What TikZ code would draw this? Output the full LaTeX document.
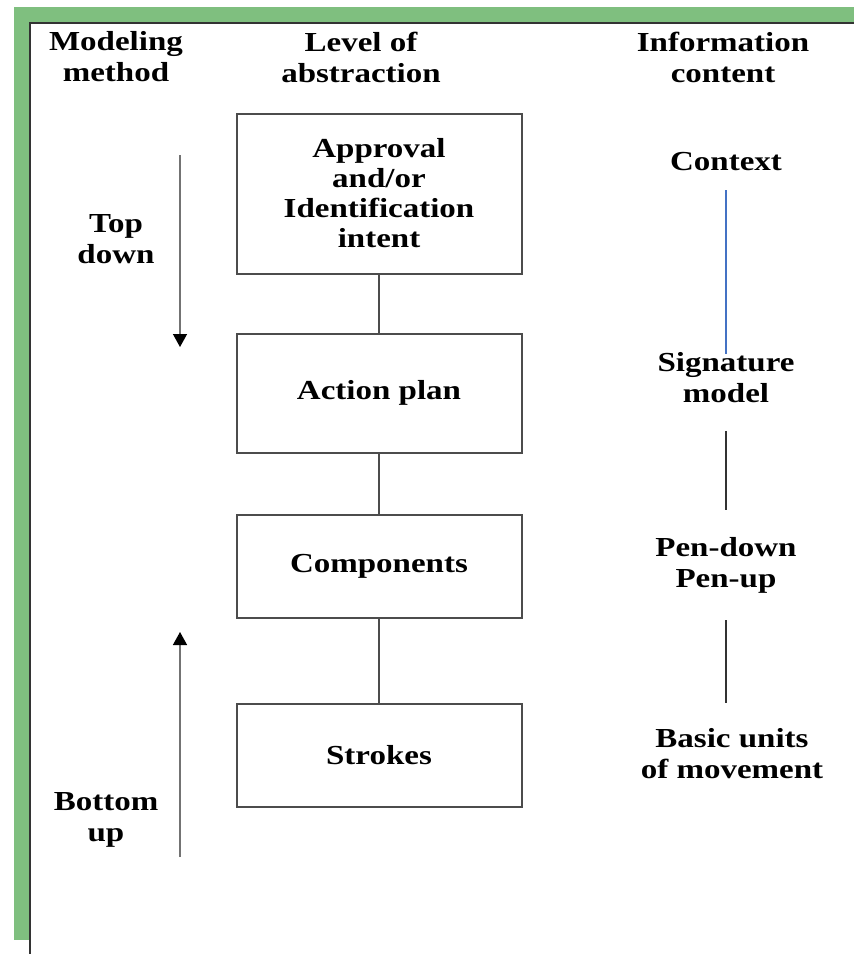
\documentclass[tikz,border=0pt]{standalone}
\usepackage{fontspec}
\setmainfont{Liberation Serif}[FakeStretch=1.2]
\usetikzlibrary{arrows.meta, positioning}
\definecolor{FrameGreen}{RGB}{127,191,127}
\definecolor{LinkBlue}{RGB}{68,114,196}
\colorlet{BoxLine}{black!70}
\colorlet{ArrowLine}{black!55}

\begin{document}
\begin{tikzpicture}[
    x=1pt, y=-1pt,
    heading/.style={
        inner sep=0pt, align=center,
        font=\fontsize{27.5}{31}\selectfont\bfseries
    },
    level/.style={
        rectangle, draw=BoxLine, line width=2pt,
        minimum width=285pt, minimum height=#1,
        inner sep=0pt, align=center,
        font=\fontsize{27.5}{30}\selectfont\bfseries
    },
    level/.default={103pt},
    link/.style={draw=BoxLine, line width=1.5pt},
    infolink/.style={draw=#1, line width=1.4pt},
    infolink/.default={black!80},
    flow/.style={
        draw=ArrowLine, line width=1.4pt,
        -{Triangle[length=13pt, width=14pt, color=black]}
    },
    node distance=58pt
]
\useasboundingbox (0,0) rectangle (854,954);

% Frame
\fill[FrameGreen] (14,7) rectangle (854,23);
\fill[FrameGreen] (14,7) rectangle (30,940);
\draw[black!80, line width=1.3pt] (854,23) -- (30,23) -- (30,954);

% Column headings
\node[heading] (hmethod) at (116,57) {Modeling\\method};
\node[heading] (hlevel) at (361,57) {Level of\\abstraction};
\node[heading] (hinfo) at (723,57) {Information\\content};

% Levels of abstraction
\node[level=160pt] (approval) at (379,193.5)
    {Approval\\and/or\\Identification\\intent};
\node[level=119pt, below=of approval] (plan) {Action plan};
\node[level, below=60pt of plan] (comp) {Components};
\node[level, below=84pt of comp] (strokes) {Strokes};

\foreach \a/\b in {approval/plan, plan/comp, comp/strokes} {
    \draw[link] (\a) -- (\b);
}

% Information content
\node[heading] (ctx) at (726,162) {Context};
\node[heading] (sig) at (726,377.5) {Signature\\model};
\node[heading] (pen) at (726,565) {Pen-down\\Pen-up};
\node[heading] (basic) at (732,754) {Basic units\\of movement};

\draw[infolink=LinkBlue, shorten <=19pt, shorten >=-2pt] (ctx) -- (sig);
\draw[infolink, shorten <=28pt, shorten >=27pt] (sig) -- (pen);
\draw[infolink, shorten <=27pt, shorten >=26pt]
    (pen.south) -- (pen.south |- basic.north);

% Modeling method
\node[heading] (topdown) at (116,239) {Top\\down};
\node[heading] (bottomup) at (106,820) {Bottom\\up};

\coordinate (tdstart) at (180,155);
\coordinate (tdend) at (180,347);
\coordinate (bustart) at (180,857);
\coordinate (buend) at (180,632);
\draw[flow] (tdstart) -- (tdend);
\draw[flow] (bustart) -- (buend);

\end{tikzpicture}
\end{document}
